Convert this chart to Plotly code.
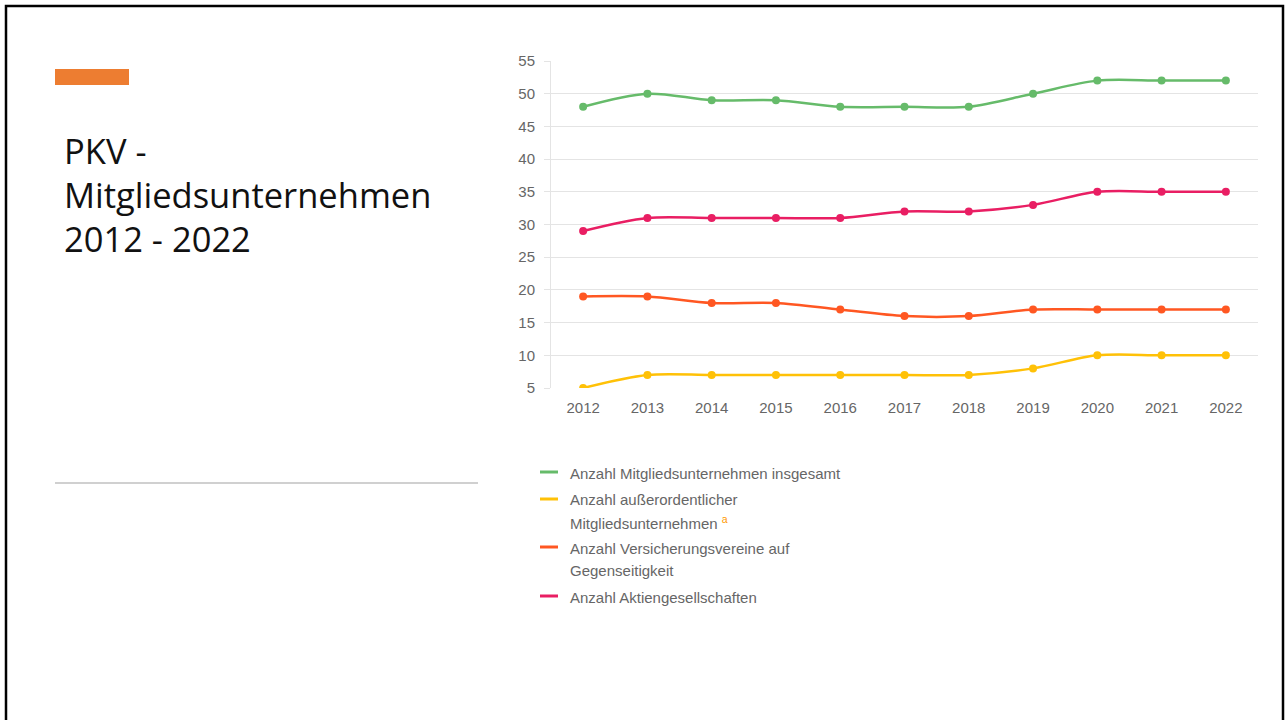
import plotly.graph_objects as go

# Data: PKV member companies 2012-2022
years = ["2012", "2013", "2014", "2015", "2016", "2017", "2018", "2019", "2020", "2021", "2022"]
gesamt = [48, 50, 49, 49, 48, 48, 48, 50, 52, 52, 52]
ausserordentlich = [5, 7, 7, 7, 7, 7, 7, 8, 10, 10, 10]
vvag = [19, 19, 18, 18, 17, 16, 16, 17, 17, 17, 17]
aktiengesellschaften = [29, 31, 31, 31, 31, 32, 32, 33, 35, 35, 35]

series_names = [
    "Anzahl Mitgliedsunternehmen insgesamt",
    "Anzahl außerordentlicher Mitgliedsunternehmen",
    "Anzahl Versicherungsvereine auf Gegenseitigkeit",
    "Anzahl Aktiengesellschaften",
]
y_ticks = [5, 10, 15, 20, 25, 30, 35, 40, 45, 50, 55]

COLORS = ["#66bb6a", "#ffc107", "#ff5722", "#e91e63"]
W, H = 1286, 720
PL, PR, PT, PB = 551, 1258, 61, 388  # plot area in pixels

def fx(x):
    return (x - PL) / (PR - PL)

def fy(y):
    return (PB - y) / (PB - PT)

fig = go.Figure()
# draw order: pink, orange, yellow, green on top
for name, vals, col in [
    (series_names[3], aktiengesellschaften, COLORS[3]),
    (series_names[2], vvag, COLORS[2]),
    (series_names[1], ausserordentlich, COLORS[1]),
    (series_names[0], gesamt, COLORS[0]),
]:
    fig.add_trace(go.Scatter(
        x=years, y=vals, name=name, mode="lines+markers",
        line=dict(color=col, width=2.5, shape="spline", smoothing=0.9),
        marker=dict(color=col, size=8),
        showlegend=False,
    ))

tick_font = dict(family="Liberation Sans, Arial, sans-serif", size=15, color="#666666")

fig.update_layout(
    width=W, height=H,
    margin=dict(l=PL, r=W - PR, t=PT, b=H - PB, pad=0),
    paper_bgcolor="white", plot_bgcolor="white",
    xaxis=dict(
        type="category", range=[-0.5, 10.5], showgrid=False, zeroline=False,
        showline=False, ticks="", tickfont=tick_font, ticklabelstandoff=9,
    ),
    yaxis=dict(
        range=[5, 55], tickvals=y_ticks, showgrid=True, gridcolor="#e4e4e4",
        gridwidth=1, zeroline=False, showline=True, linecolor="#e4e4e4",
        linewidth=1, ticks="outside", ticklen=6, tickcolor="#e4e4e4",
        tickfont=tick_font, ticklabelstandoff=6,
    ),
    showlegend=False,
)

shapes = []
annotations = []

# slide frame
shapes.append(dict(type="rect", xref="paper", yref="paper",
                   x0=fx(6), x1=fx(1283), y0=fy(730), y1=fy(6),
                   line=dict(color="#000000", width=2.5), fillcolor="rgba(0,0,0,0)"))
# accent bar
shapes.append(dict(type="rect", xref="paper", yref="paper",
                   x0=fx(55), x1=fx(129), y0=fy(85), y1=fy(69),
                   line=dict(width=0), fillcolor="#ed7d31"))
# separator line
shapes.append(dict(type="line", xref="paper", yref="paper",
                   x0=fx(55), x1=fx(478), y0=fy(483), y1=fy(483),
                   line=dict(color="#d0d0d0", width=2)))

# slide title
title_font = dict(family="Open Sans, sans-serif", size=34.5, color="#111111")
for text, yc in [("PKV -", 150), ("Mitgliedsunternehmen", 194), ("2012 - 2022", 238)]:
    annotations.append(dict(xref="paper", yref="paper", x=fx(62), y=fy(yc),
                            xanchor="left", yanchor="middle", text=text,
                            showarrow=False, font=title_font))

# legend drawn as line keys with labels
legend_font = dict(family="Liberation Sans, Arial, sans-serif", size=15, color="#666666")
legend_rows = [
    (COLORS[0], ["Anzahl Mitgliedsunternehmen insgesamt"], 473),
    (COLORS[1], ["Anzahl außerordentlicher",
                 "Mitgliedsunternehmen <sup><span style='color:#ff9800'>a</span></sup>"], 500),
    (COLORS[2], ["Anzahl Versicherungsvereine auf", "Gegenseitigkeit"], 548),
    (COLORS[3], ["Anzahl Aktiengesellschaften"], 597),
]
for col, lines, y0 in legend_rows:
    shapes.append(dict(type="line", xref="paper", yref="paper",
                       x0=fx(540), x1=fx(558), y0=fy(y0 - 1), y1=fy(y0 - 1),
                       line=dict(color=col, width=3)))
    for i, t in enumerate(lines):
        annotations.append(dict(xref="paper", yref="paper", x=fx(568), y=fy(y0 + 22 * i),
                                xanchor="left", yanchor="middle", text=t,
                                showarrow=False, font=legend_font))

fig.update_layout(shapes=shapes, annotations=annotations)
fig.write_html("out.html")
